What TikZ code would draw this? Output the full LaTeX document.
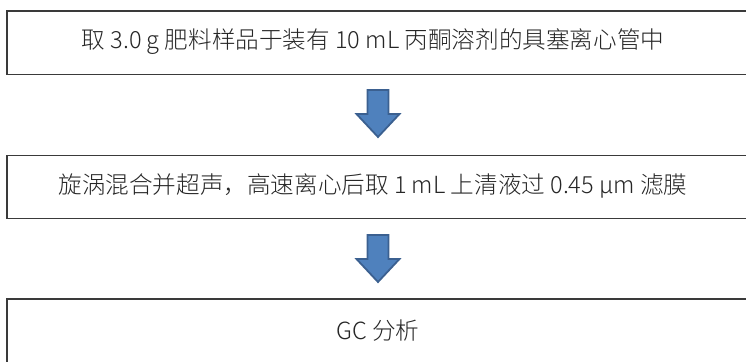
\documentclass[tikz,border=0pt]{standalone}
\usepackage{fontspec}
\newfontfamily\cjk{Noto Sans CJK SC Light}
\definecolor{boxline}{HTML}{3A3A3A}
\definecolor{txt}{HTML}{262626}
\definecolor{arrfill}{HTML}{4F81BD}
\definecolor{arrline}{HTML}{3B6090}
\tikzset{
  stepbox/.style={draw=boxline, line width=1.8pt, fill=white, minimum width=800pt, minimum height=63pt, anchor=north west, inner sep=0pt},
  steptext/.style={font=\cjk\fontsize{23.6}{28}\selectfont, text=txt, inner sep=0pt, anchor=center},
  blockarrow/.style={fill=arrfill, draw=arrline, line width=1.8pt, line join=miter}
}
\begin{document}
\begin{tikzpicture}[x=1pt,y=1pt]
\useasboundingbox (0,0) rectangle (746,-361);
\clip (0,0) rectangle (746,-361);
\node[stepbox] (b1) at (6,-10.5) {};
\node[stepbox] (b2) at (6,-154.5) {};
\node[stepbox, minimum height=80pt] (b3) at (6,-298) {};
\node[steptext] (t1) at (373,-42) {取 3.0 g 肥料样品于装有 10 mL 丙酮溶剂的具塞离心管中};
\node[steptext] (t2) at (373,-186) {旋涡混合并超声，高速离心后取 1 mL 上清液过 0.45 μm 滤膜};
\node[steptext] (t3) at (378,-331) {GC 分析};
\coordinate (a1) at (378,-90);
\coordinate (a2) at (378,-235);
\foreach \c in {a1,a2}{
  \draw[blockarrow] ([xshift=-10.5pt]\c) -- ([xshift=10.5pt]\c) -- ([xshift=10.5pt,yshift=-24pt]\c)
    -- ([xshift=21.5pt,yshift=-24pt]\c) -- ([yshift=-47pt]\c) -- ([xshift=-21.5pt,yshift=-24pt]\c)
    -- ([xshift=-10.5pt,yshift=-24pt]\c) -- cycle;
}
\end{tikzpicture}
\end{document}
